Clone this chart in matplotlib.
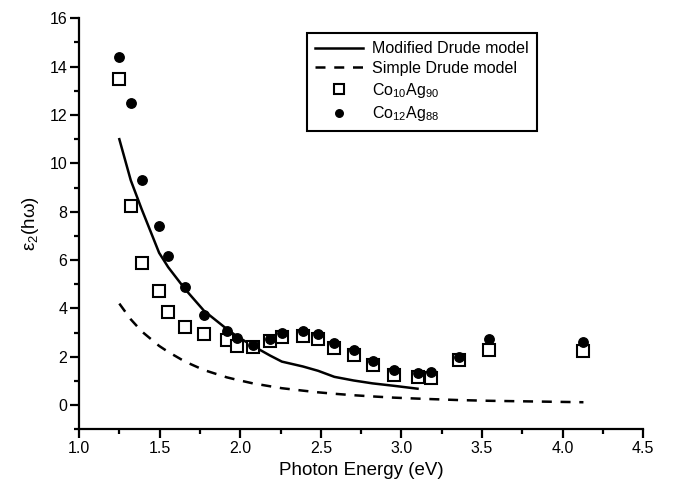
import matplotlib
matplotlib.use("Agg")
import matplotlib.pyplot as plt
from matplotlib.ticker import MultipleLocator

plt.rcParams['font.family'] = ['Liberation Sans', 'DejaVu Sans']
plt.rcParams['mathtext.fontset'] = 'custom'
plt.rcParams['mathtext.rm'] = 'Liberation Sans'
plt.rcParams['mathtext.it'] = 'Liberation Sans:italic'

# photon energies (eV)
energy = [1.249, 1.320, 1.388, 1.496, 1.553, 1.657, 1.775, 1.916, 1.978, 2.078,
          2.185, 2.258, 2.388, 2.483, 2.584, 2.703, 2.821, 2.953, 3.100, 3.183,
          3.355, 3.541, 4.130]
co10ag90 = [13.48, 8.24, 5.88, 4.74, 3.85, 3.23, 2.95, 2.71, 2.43, 2.40,
            2.64, 2.82, 2.87, 2.75, 2.36, 2.07, 1.65, 1.26, 1.15, 1.13,
            1.86, 2.30, 2.23]
co12ag88 = [14.39, 12.49, 9.32, 7.42, 6.18, 4.88, 3.74, 3.05, 2.77, 2.50,
            2.73, 2.98, 3.07, 2.94, 2.58, 2.28, 1.83, 1.45, 1.31, 1.37,
            2.01, 2.75, 2.62]

# modified Drude model (solid line)
mod_energy = energy[:19]
mod_drude = [11.0, 9.3, 8.1, 6.3, 5.7, 4.8, 3.9, 3.15, 2.85, 2.45,
             2.05, 1.80, 1.60, 1.42, 1.17, 1.02, 0.90, 0.80, 0.68]

# simple Drude model (dashed line)
simple_drude = [4.2, 3.55, 3.05, 2.45, 2.2, 1.8, 1.45, 1.15, 1.05, 0.9,
                0.78, 0.70, 0.60, 0.53, 0.47, 0.41, 0.36, 0.31, 0.27, 0.25,
                0.21, 0.18, 0.12]

fig = plt.figure(figsize=(6.73, 4.95), dpi=100)
ax = fig.add_axes([0.1177, 0.1327, 0.8378, 0.8303])

ax.plot(mod_energy, mod_drude, color='black', lw=1.8, label='Modified Drude model', zorder=2)
ax.plot(energy, simple_drude, color='black', lw=1.8, ls=(0, (4, 3.5)), label='Simple Drude model', zorder=2)
ax.plot(energy, co10ag90, ls='none', marker='s', ms=8.6, mfc='white', mec='black', mew=1.5,
        label=r'Co$_{10}$Ag$_{90}$', zorder=3)
ax.plot(energy, co12ag88, ls='none', marker='o', ms=6.8, mfc='black', mec='black',
        label=r'Co$_{12}$Ag$_{88}$', zorder=4)

ax.set_xlim(1.0, 4.5)
ax.set_ylim(-1, 16)
ax.xaxis.set_major_locator(MultipleLocator(0.5))
ax.xaxis.set_minor_locator(MultipleLocator(0.25))
ax.yaxis.set_major_locator(MultipleLocator(2))
ax.yaxis.set_minor_locator(MultipleLocator(1))
ax.set_yticks([0, 2, 4, 6, 8, 10, 12, 14, 16])

for s in ['top', 'right']:
    ax.spines[s].set_visible(False)
for s in ['left', 'bottom']:
    ax.spines[s].set_linewidth(1.6)

ax.tick_params(which='major', direction='out', length=6.5, width=1.6, labelsize=11.5, pad=2)
ax.tick_params(which='minor', direction='out', length=3.8, width=1.6)

ax.set_xlabel('Photon Energy (eV)', fontsize=13.5, labelpad=4)
ax.set_ylabel(r'ε$_2$(hω)', fontsize=13.5, labelpad=6)

leg = ax.legend(loc='upper left', bbox_to_anchor=(0.404, 0.964), fontsize=11.5,
                frameon=True, fancybox=False, edgecolor='black', framealpha=1,
                handlelength=3.0, handletextpad=0.6, labelspacing=0.3,
                borderpad=0.5, borderaxespad=0, markerscale=0.8)
leg.get_frame().set_linewidth(1.5)

fig.savefig('out.png', dpi=100)
